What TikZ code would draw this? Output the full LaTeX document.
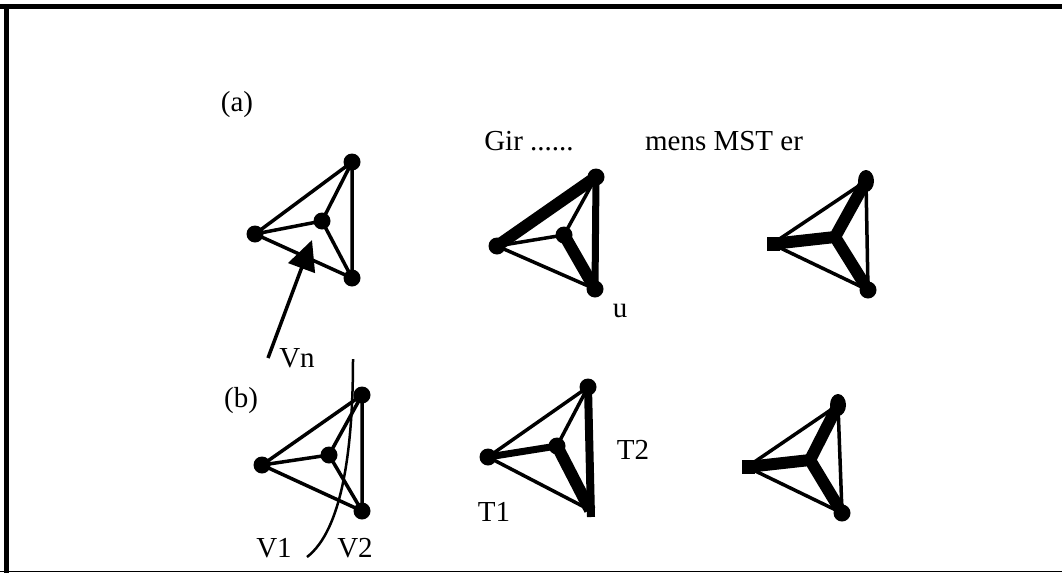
\documentclass[tikz,border=0pt]{standalone}
\usepackage{fontspec}
\setmainfont{Liberation Serif}
\usetikzlibrary{arrows.meta}

\tikzset{
  lbl/.style={font=\fontsize{29}{33}\selectfont,inner sep=0pt},
  lightedge/.style={line width=3.5pt},
  heavyedge/.style={line width=12pt},
  midedge/.style={line width=7pt},
}

\begin{document}
\begin{tikzpicture}[x=1pt,y=-1pt]
\useasboundingbox (0,0) rectangle (1062,573);
% frame
\draw[line width=5pt] (0,6.5) -- (1062,6.5);
\draw[line width=5pt] (6.5,4) -- (6.5,573);
\draw[line width=1.5pt] (0,571.5) -- (1062,571.5);

% labels
\node[lbl] (labA) at (237,105) {(a)};
\node[lbl] (labB) at (241,401) {(b)};
\node[lbl] (gir) at (529,141) {Gir ......};
\node[lbl] (mens) at (724,141) {mens MST er};
\node[lbl] (labU) at (620,311) {u};
\node[lbl] (labVn) at (297,358) {Vn};
\node[lbl] (labV1) at (274,548) {V1};
\node[lbl] (labV2) at (355,548) {V2};
\node[lbl] (labT1) at (494,512) {T1};
\node[lbl] (labT2) at (633,450) {T2};

% (a) graph
\coordinate (a1) at (352,162);
\coordinate (a2) at (322,221);
\coordinate (a3) at (255,234);
\coordinate (a4) at (352,278);
\draw[lightedge] (a3) -- (a1) -- (a4) -- (a3) -- (a2) -- (a1);
\draw[lightedge] (a2) -- (a4);
\foreach \p in {a1,a2,a3,a4} \fill (\p) circle (8.5pt);
\coordinate (vnTail) at (268,358);
\coordinate (vnTip) at (312,240);
\draw[lightedge,-{Triangle[length=30pt,width=28pt]}] (vnTail) -- (vnTip);

% (a) Giri tree
\coordinate (g1) at (596,177);
\coordinate (g2) at (564,235);
\coordinate (g3) at (497,246);
\coordinate (g4) at (595,289);
\draw[lightedge] (g3) -- (g2) -- (g1);
\draw[lightedge] (g3) -- (g4);
\draw[heavyedge,line cap=round] (g3) -- (g1);
\draw[heavyedge,line cap=round] (g2) -- (g4);
\draw[midedge] (g1) -- (g4);
\foreach \p in {g1,g2,g3,g4} \fill (\p) circle (8.5pt);

% (a) MST
\coordinate (m1) at (866,181);
\coordinate (m2) at (835,237);
\coordinate (m3) at (772,244);
\coordinate (m4) at (868,290);
\draw[lightedge] (m3) -- (m1) -- (m4) -- (m3);
\draw[heavyedge] (m1) -- (m2) -- (m3);
\draw[heavyedge] (m2) -- (m4);
\fill (m1) ellipse (8pt and 11pt);
\fill (m4) circle (8.5pt);
\fill (m3) ++(-5,-7) rectangle ++(13,14);

% (b) graph with cut
\coordinate (b1) at (362,395);
\coordinate (b2) at (329,455);
\coordinate (b3) at (262,465);
\coordinate (b4) at (362,511);
\draw[lightedge] (b3) -- (b1) -- (b4) -- (b3) -- (b2) -- (b1);
\draw[lightedge] (b2) -- (b4);
\foreach \p in {b1,b2,b3,b4} \fill (\p) circle (8.5pt);
\coordinate (cutTop) at (353,359);
\coordinate (cutBot) at (307,557);
\draw[line width=2.5pt] (cutTop) .. controls (353,450) and (342,530) .. (cutBot);

% (b) two trees
\coordinate (t1) at (588,387);
\coordinate (t2) at (557,446);
\coordinate (t3) at (488,457);
\coordinate (t4) at (590,510);
\coordinate (t4end) at (591,517);
\draw[lightedge] (t3) -- (t1) -- (t2);
\draw[lightedge] (t3) -- (t4);
\draw[midedge] (t3) -- (t2);
\draw[heavyedge] (t2) -- (t4);
\draw[line width=8pt] (t1) -- (t4end);
\foreach \p in {t1,t2,t3} \fill (\p) circle (8.5pt);

% (b) MST
\coordinate (n1) at (838,405);
\coordinate (n2) at (810,460);
\coordinate (n3) at (747,467);
\coordinate (n4) at (842,513);
\draw[lightedge] (n3) -- (n1) -- (n4) -- (n3);
\draw[heavyedge] (n1) -- (n2) -- (n3);
\draw[heavyedge] (n2) -- (n4);
\fill (n1) ellipse (8pt and 11pt);
\fill (n4) circle (8.5pt);
\fill (n3) ++(-5,-7) rectangle ++(13,14);
\end{tikzpicture}
\end{document}
